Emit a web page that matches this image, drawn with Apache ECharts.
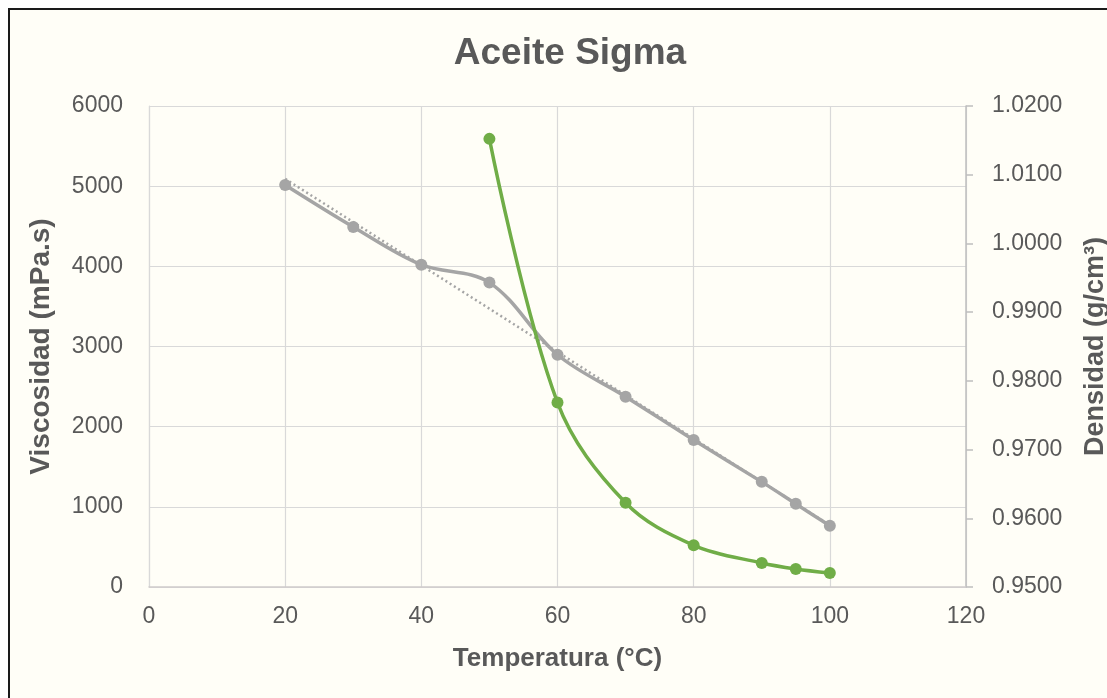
<!DOCTYPE html>
<html>
<head>
<meta charset="utf-8">
<script src="https://cdn.jsdelivr.net/npm/echarts@6/dist/echarts.min.js"></script>
<style>
  html, body { margin: 0; padding: 0; background: #ffffff; overflow: hidden; }
  #chart { width: 1107px; height: 698px; }
</style>
</head>
<body>
<div id="chart"></div>
<script>
// ---- data ----
const titleText = 'Aceite Sigma';
const xAxisName = 'Temperatura (°C)';
const leftAxisName = 'Viscosidad (mPa.s)';
const rightAxisName = 'Densidad (g/cm³)';

const densityTemps = [20, 30, 40, 50, 60, 70, 80, 90, 95, 100];
const density = [1.0085, 1.0024, 0.9969, 0.9943, 0.9838, 0.9777, 0.9714, 0.9653, 0.9621, 0.9589];

const viscTemps = [50, 60, 70, 80, 90, 95, 100];
const viscosity = [5590, 2300, 1050, 520, 300, 225, 175];

// linear trendline of density, endpoints
const trendTemps = [20, 100];
const trendDensity = [1.0094, 0.9590];

const pair = (xs, ys) => xs.map((x, i) => [x, ys[i]]);

const textColor = '#595959';
const gridColor = '#D9D9D9';
const font = 'Liberation Sans, Arial, sans-serif';

const chart = echarts.init(document.getElementById('chart'), null, { renderer: 'canvas', width: 1107, height: 698 });
chart.setOption({
  backgroundColor: 'transparent',
  animation: false,
  graphic: [{
    type: 'rect',
    z: -10,
    silent: true,
    shape: { x: 9, y: 9, width: 1120, height: 720 },
    style: { fill: '#FFFEF7', stroke: '#1a1a1a', lineWidth: 2 }
  }],
  title: {
    text: titleText,
    left: 565,
    textAlign: 'center',
    top: 30,
    textStyle: { fontFamily: font, fontSize: 37, fontWeight: 'bold', color: textColor }
  },
  grid: { left: 149, right: 141, top: 106, bottom: 111, containLabel: false, outerBoundsMode: 'none' },
  xAxis: {
    type: 'value',
    min: 0, max: 120, interval: 20,
    name: xAxisName,
    nameLocation: 'middle',
    nameGap: 59,
    nameTextStyle: { fontFamily: font, fontSize: 26, fontWeight: 'bold', color: textColor },
    axisLine: { show: true, lineStyle: { color: '#D0CCCC', width: 1.5 } },
    axisTick: { show: false },
    axisLabel: { fontFamily: font, fontSize: 23, color: textColor, margin: 18 },
    splitLine: { show: true, lineStyle: { color: gridColor, width: 1.2 } }
  },
  yAxis: [{
    type: 'value',
    position: 'left',
    min: 0, max: 6000, interval: 1000,
    name: leftAxisName,
    nameLocation: 'middle',
    nameRotate: 90,
    nameGap: 94,
    nameTextStyle: { fontFamily: font, fontSize: 28, fontWeight: 'bold', color: textColor },
    axisLine: { show: true, lineStyle: { color: gridColor, width: 1.2 } },
    axisTick: { show: false },
    axisLabel: { fontFamily: font, fontSize: 23, color: textColor, margin: 26,
      formatter: v => String(v) },
    splitLine: { show: true, lineStyle: { color: gridColor, width: 1.2 } }
  }, {
    type: 'value',
    position: 'right',
    min: 0.95, max: 1.02, interval: 0.01,
    name: rightAxisName,
    nameLocation: 'middle',
    nameRotate: 90,
    nameGap: 116,
    nameTextStyle: { fontFamily: font, fontSize: 27, fontWeight: 'bold', color: textColor },
    axisLine: { show: true, lineStyle: { color: '#BFBFBF', width: 1.5 } },
    axisTick: { show: true, length: 7, lineStyle: { color: '#BFBFBF', width: 1.5 } },
    axisLabel: { fontFamily: font, fontSize: 23, color: textColor, margin: 26,
      formatter: v => v.toFixed(4) },
    splitLine: { show: false }
  }],
  series: [{
    name: 'Densidad',
    type: 'line',
    yAxisIndex: 1,
    data: pair(densityTemps, density),
    smooth: 0.35,
    symbol: 'circle',
    symbolSize: 12,
    itemStyle: { color: '#A5A5A5' },
    lineStyle: { color: '#A5A5A5', width: 3.5 },
    z: 2
  }, {
    name: 'Tendencia',
    type: 'line',
    yAxisIndex: 1,
    data: pair(trendTemps, trendDensity),
    symbol: 'none',
    lineStyle: { color: '#A5A5A5', width: 2.5, type: [2, 3] },
    z: 3
  }, {
    name: 'Viscosidad',
    type: 'line',
    yAxisIndex: 0,
    data: pair(viscTemps, viscosity),
    smooth: 0.35,
    symbol: 'circle',
    symbolSize: 12,
    itemStyle: { color: '#70AD47' },
    lineStyle: { color: '#70AD47', width: 3.5 },
    z: 4
  }]
});
</script>
</body>
</html>
